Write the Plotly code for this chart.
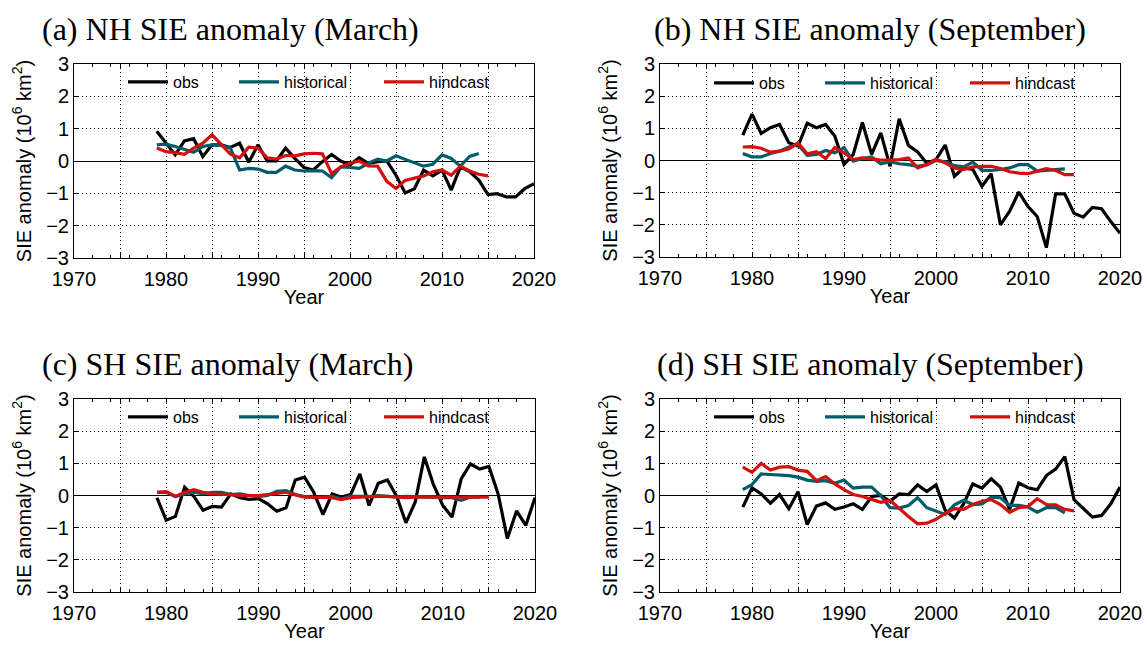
import plotly.graph_objects as go

# ---------------- data ----------------
obs_years = list(range(1979, 2021))
hist_years = list(range(1979, 2015))
hind_years = list(range(1979, 2016))

nh_mar_obs = [0.92, 0.55, 0.19, 0.62, 0.69, 0.14, 0.50, 0.50, 0.42, 0.55, -0.04, 0.50,
              0.00, 0.00, 0.40, 0.08, -0.20, -0.28, -0.02, 0.20, 0.00, -0.12, 0.10, -0.07,
              -0.02, 0.00, -0.44, -0.99, -0.86, -0.28, -0.46, -0.28, -0.90, -0.18, -0.33,
              -0.59, -1.04, -1.01, -1.11, -1.11, -0.85, -0.70]
nh_mar_hist = [0.50, 0.52, 0.45, 0.36, 0.27, 0.45, 0.50, 0.48, 0.40, -0.28, -0.23, -0.25,
               -0.35, -0.35, -0.16, -0.28, -0.31, -0.30, -0.31, -0.51, -0.18, -0.20, -0.23,
               -0.07, 0.06, 0.00, 0.16, 0.05, -0.05, -0.16, -0.10, 0.19, 0.08, -0.16, 0.14, 0.23]
nh_mar_hind = [0.40, 0.29, 0.26, 0.21, 0.40, 0.55, 0.81, 0.52, 0.21, 0.10, 0.43, 0.40,
               0.10, 0.06, 0.17, 0.16, 0.22, 0.24, 0.22, -0.39, -0.18, -0.07, 0.00, -0.15,
               -0.16, -0.63, -0.85, -0.60, -0.54, -0.46, -0.33, -0.28, -0.44, -0.16, -0.31,
               -0.41, -0.46]

nh_sep_obs = [0.79, 1.44, 0.84, 1.02, 1.12, 0.55, 0.45, 1.16, 1.02, 1.12, 0.76, -0.12,
              0.19, 1.18, 0.19, 0.86, -0.18, 1.30, 0.47, 0.27, -0.09, 0.03, 0.48, -0.49,
              -0.23, -0.28, -0.80, -0.41, -2.00, -1.58, -0.98, -1.43, -1.74, -2.71, -1.04,
              -1.04, -1.64, -1.76, -1.46, -1.50, -1.90, -2.26]
nh_sep_hist = [0.22, 0.11, 0.11, 0.22, 0.29, 0.42, 0.50, 0.16, 0.19, 0.31, 0.24, 0.40,
               -0.02, 0.06, 0.11, -0.10, -0.04, -0.10, -0.13, -0.18, -0.13, 0.00, -0.04,
               -0.16, -0.20, -0.05, -0.31, -0.31, -0.28, -0.23, -0.13, -0.13, -0.33, -0.30,
               -0.28, -0.26]
nh_sep_hind = [0.42, 0.43, 0.38, 0.26, 0.29, 0.36, 0.55, 0.21, 0.27, 0.06, 0.40, 0.24,
               0.03, 0.08, 0.05, 0.01, 0.01, 0.03, 0.08, -0.23, -0.13, 0.03, -0.07, -0.23,
               -0.28, -0.20, -0.18, -0.18, -0.25, -0.35, -0.39, -0.41, -0.33, -0.25, -0.31,
               -0.44, -0.44]

sh_mar_obs = [-0.07, -0.77, -0.65, 0.26, -0.03, -0.46, -0.34, -0.36, 0.05, -0.07, -0.12,
              -0.10, -0.26, -0.49, -0.38, 0.48, 0.57, 0.10, -0.59, 0.05, -0.05, 0.03, 0.67,
              -0.31, 0.38, 0.48, -0.03, -0.85, -0.21, 1.20, 0.33, -0.31, -0.67, 0.52, 0.98,
              0.82, 0.90, 0.05, -1.34, -0.48, -0.93, -0.07]
sh_mar_hist = [0.10, 0.10, -0.03, 0.05, 0.10, 0.05, 0.10, 0.10, 0.03, 0.05, 0.00, -0.03,
               0.00, 0.13, 0.15, 0.03, -0.03, -0.07, -0.05, -0.03, -0.10, -0.03, -0.03,
               -0.03, 0.00, -0.03, -0.05, -0.03, -0.03, -0.03, -0.05, -0.07, -0.07, -0.15,
               -0.05, -0.05]
sh_mar_hind = [0.10, 0.12, -0.03, 0.10, 0.18, 0.10, 0.05, 0.05, 0.03, 0.00, 0.00, 0.00,
               0.03, 0.07, 0.10, 0.02, -0.05, -0.05, -0.05, -0.07, -0.13, -0.07, -0.05,
               -0.03, -0.03, -0.03, -0.05, -0.07, -0.05, -0.05, -0.05, -0.05, -0.05, -0.07,
               -0.07, -0.07, -0.05]

sh_sep_obs = [-0.36, 0.24, 0.05, -0.24, 0.03, -0.41, 0.12, -0.90, -0.33, -0.23, -0.43,
              -0.36, -0.26, -0.43, -0.03, 0.00, -0.18, 0.05, 0.03, 0.33, 0.12, 0.33, -0.46,
              -0.70, -0.26, 0.36, 0.23, 0.52, 0.26, -0.43, 0.39, 0.24, 0.18, 0.62, 0.82,
              1.21, -0.13, -0.41, -0.67, -0.62, -0.26, 0.26]
sh_sep_hist = [0.18, 0.34, 0.67, 0.65, 0.64, 0.62, 0.57, 0.48, 0.44, 0.46, 0.38, 0.48,
               0.23, 0.26, 0.26, 0.00, -0.38, -0.39, -0.31, -0.07, -0.38, -0.48, -0.59,
               -0.29, -0.15, -0.28, -0.26, -0.05, -0.07, -0.31, -0.31, -0.36, -0.52, -0.38,
               -0.38, -0.54]
sh_sep_hind = [0.88, 0.72, 1.00, 0.79, 0.88, 0.90, 0.79, 0.75, 0.46, 0.59, 0.36, 0.18,
               0.03, -0.03, -0.12, -0.21, -0.15, -0.41, -0.65, -0.88, -0.86, -0.74, -0.56,
               -0.41, -0.43, -0.28, -0.18, -0.13, -0.28, -0.52, -0.38, -0.34, -0.10, -0.28,
               -0.29, -0.43, -0.48]

panel_titles = ["(a) NH SIE anomaly (March)", "(b) NH SIE anomaly (September)",
                "(c) SH SIE anomaly (March)", "(d) SH SIE anomaly (September)"]
series_names = ["obs", "historical", "hindcast"]
x_tickvals = list(range(1970, 2021, 5))
x_ticktext = [str(v) if v % 10 == 0 else "" for v in x_tickvals]
y_tickvals = [-3, -2, -1, 0, 1, 2, 3]

# ---------------- styling / layout ----------------
W, H = 1148, 647
colors = ["#000000", "#005d68", "#d3100e"]
sans = "Liberation Sans, Arial, sans-serif"
serif = "Liberation Serif, Times New Roman, serif"

# pixel boxes of the four axes (left, right, top, bottom)
boxes = [(74, 534, 64, 258), (660, 1120, 64, 257),
         (74, 535, 399, 592), (660, 1120, 399, 592)]
title_pos = [(40, 29), (652, 29), (40, 364), (655, 364)]
legend_y = [82, 83, 417, 417]
legend_widths = [56, 90, 70]   # per-entry widths (px) controlling legend spacing

panels = [
    (nh_mar_obs, nh_mar_hist, nh_mar_hind),
    (nh_sep_obs, nh_sep_hist, nh_sep_hind),
    (sh_mar_obs, sh_mar_hist, sh_mar_hind),
    (sh_sep_obs, sh_sep_hist, sh_sep_hind),
]

fig = go.Figure()
layout = dict(width=W, height=H, autosize=False,
              margin=dict(l=0, r=0, t=0, b=0, autoexpand=False),
              paper_bgcolor="white", plot_bgcolor="white",
              font=dict(family=sans, size=20, color="black"),
              annotations=[])

for i, (data, box) in enumerate(zip(panels, boxes)):
    n = i + 1
    xa = "x" if n == 1 else f"x{n}"
    ya = "y" if n == 1 else f"y{n}"
    leg = "legend" if n == 1 else f"legend{n}"
    years = [obs_years, hist_years, hind_years]
    for k in range(3):
        fig.add_trace(go.Scatter(
            x=years[k], y=data[k], mode="lines", name=series_names[k],
            line=dict(color=colors[k], width=3.2),
            xaxis=xa, yaxis=ya, legend=leg, showlegend=True,
            legendwidth=legend_widths[k]))
    l, r, t, b = box
    axis_common = dict(showline=True, linecolor="black", linewidth=1, mirror="ticks",
                       ticks="inside", tickcolor="black", showgrid=True,
                       gridcolor="black", gridwidth=1, griddash="1px,3px",
                       automargin=False,
                       tickfont=dict(family=sans, size=20, color="black"))
    layout["xaxis" if n == 1 else f"xaxis{n}"] = dict(
        axis_common, domain=[l / W, r / W], anchor=ya, range=[1970, 2020],
        tickmode="array", tickvals=x_tickvals, ticktext=x_ticktext, ticklen=5,
        zeroline=False, ticklabelstandoff=3,
        minor=dict(dtick=2, tick0=1970, ticks="inside", ticklen=3, tickcolor="black",
                   showgrid=False),
        title=dict(text="Year", font=dict(family=sans, size=20), standoff=0))
    layout["yaxis" if n == 1 else f"yaxis{n}"] = dict(
        axis_common, domain=[(H - b) / H, (H - t) / H], anchor=xa, range=[-3, 3],
        tickmode="array", tickvals=y_tickvals, ticklen=5,
        zeroline=True, zerolinecolor="black", zerolinewidth=1.2,
        title=dict(text="SIE anomaly (10<sup>6</sup> km<sup>2</sup>)",
                   font=dict(family=sans, size=20), standoff=9))
    layout[leg] = dict(orientation="h", x=(l + 49) / W, xanchor="left",
                       y=(H - legend_y[i]) / H, yanchor="middle",
                       bgcolor="rgba(0,0,0,0)", borderwidth=0,
                       font=dict(family=sans, size=16, color="black"),
                       itemwidth=40, tracegroupgap=0)
    tx, ty = title_pos[i]
    layout["annotations"].append(dict(
        text=panel_titles[i], xref="paper", yref="paper", x=tx / W, y=(H - ty) / H,
        xanchor="left", yanchor="middle", showarrow=False,
        font=dict(family=serif, size=32, color="black")))

fig.update_layout(**layout)
fig.write_html("out.html")
